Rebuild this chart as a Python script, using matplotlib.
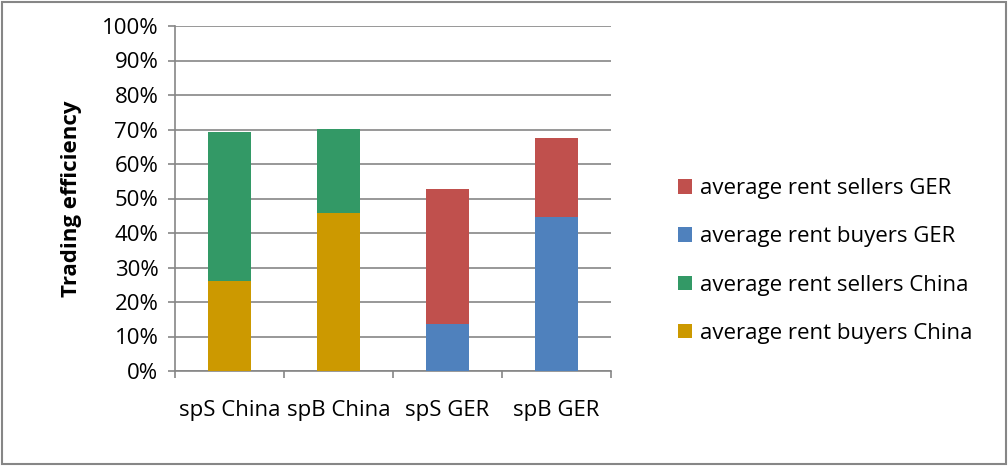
import matplotlib.pyplot as plt
import numpy as np
from matplotlib.ticker import PercentFormatter

categories = ["spS China", "spB China", "spS GER", "spB GER"]
buyers_china = [26.0, 45.7, 0, 0]
sellers_china = [43.2, 24.5, 0, 0]
buyers_ger = [0, 0, 13.6, 44.5]
sellers_ger = [0, 0, 39.2, 23.1]

plt.rcParams['font.family'] = ['Open Sans', 'DejaVu Sans']
fs = 16

fig = plt.figure(figsize=(10.08, 4.66), dpi=100)
ax = fig.add_axes([175 / 1008, 1 - 371 / 466, 436 / 1008, 345 / 466])

x = np.arange(len(categories))
w = 0.4
grid_c = "#868686"

b1 = ax.bar(x, buyers_china, w, color="#CC9900", zorder=3)
b2 = ax.bar(x, sellers_china, w, bottom=buyers_china, color="#339966", zorder=3)
b3 = ax.bar(x, buyers_ger, w, color="#4F81BD", zorder=3)
b4 = ax.bar(x, sellers_ger, w, bottom=buyers_ger, color="#C0504D", zorder=3)

ax.set_ylim(0, 100)
ax.set_xlim(-0.5, len(categories) - 0.5)
ax.set_yticks(np.arange(0, 101, 10))
ax.yaxis.set_major_formatter(PercentFormatter(decimals=0))
ax.yaxis.grid(True, color=grid_c, linewidth=1.2, zorder=0)

# category labels centred, tick marks at category boundaries
ax.set_xticks(x)
ax.set_xticklabels(categories)
ax.set_xticks(np.arange(-0.5, len(categories)), minor=True)
ax.tick_params(axis='x', which='major', length=0, pad=21, labelsize=fs)
ax.tick_params(axis='x', which='minor', length=5, width=1.2, color=grid_c)
ax.tick_params(axis='y', length=5, width=1.2, color=grid_c, labelsize=fs, pad=7)

for s in ["top", "right"]:
    ax.spines[s].set_visible(False)
for s in ["left", "bottom"]:
    ax.spines[s].set_color(grid_c)
    ax.spines[s].set_linewidth(1.2)

ax.set_ylabel("Trading efficiency", fontsize=fs, fontweight="bold", labelpad=14)

ax.legend([b4, b3, b2, b1],
          ["average rent sellers GER", "average rent buyers GER",
           "average rent sellers China", "average rent buyers China"],
          loc="center left", bbox_to_anchor=(658 / 1008, 1 - 261 / 466),
          bbox_transform=fig.transFigure, frameon=False, fontsize=fs,
          handlelength=0.62, handleheight=0.62, handletextpad=0.35,
          labelspacing=1.22)

# outer chart border
fig.patches.append(plt.Rectangle((0.002, 0.004), 0.996, 0.992, transform=fig.transFigure,
                                 fill=False, edgecolor=grid_c, linewidth=1.5))

fig.savefig("out.png", dpi=100)
